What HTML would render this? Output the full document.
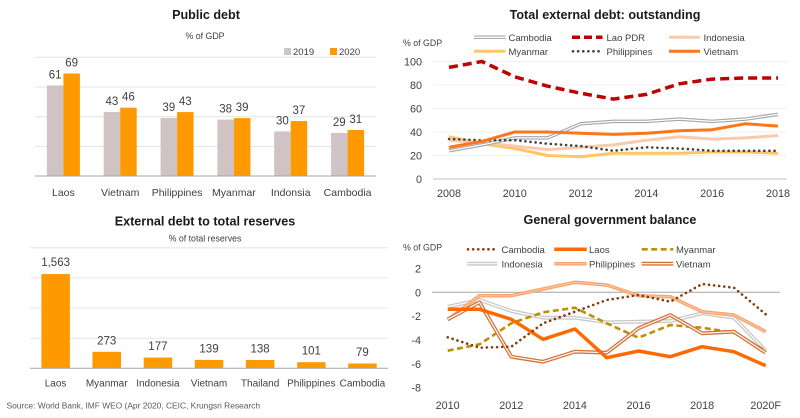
<!DOCTYPE html>
<html><head><meta charset="utf-8"><style>
html,body{margin:0;padding:0;background:#fff;width:800px;height:418px;overflow:hidden}
svg{display:block}
text{font-family:"Liberation Sans",sans-serif;fill:#404040}
.t{font-weight:bold;font-size:12.6px;fill:#1a1a1a}
.s{font-size:8.8px}
.lg{font-size:9.5px}
.ax{font-size:10.8px}
.v{font-size:11.5px}
.c{font-size:10.5px}
.c2{font-size:10px}
</style></head><body>
<svg width="800" height="418" viewBox="0 0 800 418" xmlns="http://www.w3.org/2000/svg">
<!-- ============ Chart 1: Public debt ============ -->
<text class="t" x="206" y="19" text-anchor="middle">Public debt</text>
<text class="s" x="205" y="39" text-anchor="middle">% of GDP</text>
<rect x="284" y="48" width="7" height="7" fill="#CFC3C3"/>
<text class="lg" x="293" y="55">2019</text>
<rect x="330" y="48" width="7" height="7" fill="#FF9900"/>
<text class="lg" x="339" y="55">2020</text>
<g stroke="#e3e3e3" stroke-width="1">
<line x1="35" y1="57.3" x2="376" y2="57.3"/><line x1="35" y1="87" x2="376" y2="87"/>
<line x1="35" y1="116.7" x2="376" y2="116.7"/><line x1="35" y1="146.4" x2="376" y2="146.4"/>
</g>
<g fill="#CFC3C3">
<rect x="46.9" y="85.4" width="16.5" height="90.6"/>
<rect x="103.7" y="112.1" width="16.5" height="63.9"/>
<rect x="160.6" y="118.1" width="16.5" height="57.9"/>
<rect x="217.4" y="119.6" width="16.5" height="56.4"/>
<rect x="274.2" y="131.45" width="16.5" height="44.55"/>
<rect x="331.1" y="132.9" width="16.5" height="43.1"/>
</g>
<g fill="#FF9900">
<rect x="63.4" y="73.5" width="16.5" height="102.5"/>
<rect x="120.2" y="107.7" width="16.5" height="68.3"/>
<rect x="177.1" y="112.1" width="16.5" height="63.9"/>
<rect x="233.9" y="118.1" width="16.5" height="57.9"/>
<rect x="290.7" y="121.05" width="16.5" height="54.95"/>
<rect x="347.6" y="130" width="16.5" height="46"/>
</g>
<line x1="35" y1="176" x2="376" y2="176" stroke="#a6a6a6" stroke-width="1"/>
<g class="v" text-anchor="middle">
<text class="v" x="55.1" y="78.4">61</text><text class="v" x="71.6" y="66.5">69</text>
<text class="v" x="111.9" y="105.1">43</text><text class="v" x="128.4" y="100.7">46</text>
<text class="v" x="168.8" y="111.1">39</text><text class="v" x="185.3" y="105.1">43</text>
<text class="v" x="225.6" y="112.6">38</text><text class="v" x="242.1" y="111.1">39</text>
<text class="v" x="282.4" y="124.4">30</text><text class="v" x="298.9" y="114">37</text>
<text class="v" x="339.3" y="125.9">29</text><text class="v" x="355.8" y="123">31</text>
</g>
<g text-anchor="middle">
<text class="c" x="63.4" y="196">Laos</text>
<text class="c" x="120.2" y="196">Vietnam</text>
<text class="c" x="177.1" y="196">Philippines</text>
<text class="c" x="233.9" y="196">Myanmar</text>
<text class="c" x="290.7" y="196">Indonsia</text>
<text class="c" x="347.6" y="196">Cambodia</text>
</g>

<!-- ============ Chart 2: Total external debt ============ -->
<text class="t" x="605" y="19" text-anchor="middle">Total external debt: outstanding</text>
<text class="s" x="403" y="46">% of GDP</text>
<!-- legend -->
<line x1="474" y1="37.3" x2="505.5" y2="37.3" stroke="#a6a6a6" stroke-width="3.5"/>
<line x1="474" y1="37.3" x2="505.5" y2="37.3" stroke="#fff" stroke-width="1.3"/>
<text class="lg" x="508.5" y="41">Cambodia</text>
<line x1="572" y1="37.3" x2="602.5" y2="37.3" stroke="#C00000" stroke-width="3.5" stroke-dasharray="8,4"/>
<text class="lg" x="606.5" y="41">Lao PDR</text>
<line x1="669" y1="37.3" x2="700" y2="37.3" stroke="#F8CBAD" stroke-width="3"/>
<text class="lg" x="703.5" y="41">Indonesia</text>
<line x1="474" y1="51.3" x2="505.5" y2="51.3" stroke="#FFC566" stroke-width="3"/>
<text class="lg" x="508.5" y="55">Myanmar</text>
<line x1="573" y1="51.3" x2="602.5" y2="51.3" stroke="#404040" stroke-width="2.6" stroke-linecap="round" stroke-dasharray="0.1,5"/>
<text class="lg" x="606.5" y="55">Philippines</text>
<line x1="669" y1="51.3" x2="700" y2="51.3" stroke="#FF7519" stroke-width="3"/>
<text class="lg" x="703.5" y="55">Vietnam</text>
<!-- grid -->
<g stroke="#f0f0f0" stroke-width="1">
<line x1="433" y1="61.5" x2="787" y2="61.5"/><line x1="433" y1="85" x2="787" y2="85"/>
<line x1="433" y1="108.5" x2="787" y2="108.5"/><line x1="433" y1="132" x2="787" y2="132"/>
<line x1="433" y1="155.5" x2="787" y2="155.5"/>
</g>
<line x1="433" y1="179" x2="787" y2="179" stroke="#bfbfbf" stroke-width="1"/>
<g text-anchor="end">
<text class="ax" x="422" y="65.5">100</text><text class="ax" x="422" y="89">80</text>
<text class="ax" x="422" y="112.5">60</text><text class="ax" x="422" y="136">40</text>
<text class="ax" x="422" y="159.5">20</text><text class="ax" x="422" y="183">0</text>
</g>
<g text-anchor="middle">
<text class="ax" x="449" y="197">2008</text><text class="ax" x="514.8" y="197">2010</text>
<text class="ax" x="580.6" y="197">2012</text><text class="ax" x="646.4" y="197">2014</text>
<text class="ax" x="712.2" y="197">2016</text><text class="ax" x="778" y="197">2018</text>
</g>
<g fill="none" stroke-linejoin="round">
<polyline stroke="#FFC566" stroke-width="3" points="449,136.7 481.9,143.75 514.8,148.5 547.7,155.5 580.6,156.7 613.5,153.2 646.4,153.2 679.3,153.2 712.2,152 745.1,152 778,153.2"/>
<polyline stroke="#F8CBAD" stroke-width="3" points="449,140.2 481.9,142.6 514.8,146.1 547.7,149.6 580.6,147.3 613.5,144.9 646.4,140.2 679.3,136.7 712.2,139.1 745.1,137.9 778,135.5"/>
<polyline stroke="#a6a6a6" stroke-width="3.5" points="449,150.8 481.9,144.9 514.8,137.9 547.7,137.9 580.6,123.8 613.5,121.4 646.4,121.4 679.3,119.1 712.2,121.4 745.1,119.1 778,114.4"/>
<polyline stroke="#fff" stroke-width="1.2" points="449,150.8 481.9,144.9 514.8,137.9 547.7,137.9 580.6,123.8 613.5,121.4 646.4,121.4 679.3,119.1 712.2,121.4 745.1,119.1 778,114.4"/>
<polyline stroke="#404040" stroke-width="2.6" stroke-linecap="round" stroke-dasharray="0.1,5" points="449,139 481.9,140.2 514.8,140.2 547.7,143.75 580.6,146.1 613.5,150.8 646.4,147.3 679.3,148.5 712.2,150.8 745.1,150.8 778,150.8"/>
<polyline stroke="#FF7519" stroke-width="3" points="449,147.3 481.9,141.4 514.8,132 547.7,132 580.6,133.2 613.5,134.4 646.4,133.2 679.3,130.8 712.2,129.7 745.1,123.8 778,126.1"/>
<polyline stroke="#C00000" stroke-width="3.5" stroke-dasharray="9,5" points="449,67.4 481.9,61.5 514.8,76.8 547.7,86.2 580.6,93.2 613.5,99.1 646.4,94.4 679.3,83.8 712.2,79.1 745.1,77.95 778,77.95"/>
</g>

<!-- ============ Chart 3: External debt to total reserves ============ -->
<text class="t" x="205" y="225.5" text-anchor="middle">External debt to total reserves</text>
<text class="s" x="205" y="241.5" text-anchor="middle">% of total reserves</text>
<g stroke="#e6e6e6" stroke-width="1">
<line x1="30" y1="247.7" x2="388" y2="247.7"/><line x1="30" y1="277.9" x2="388" y2="277.9"/>
<line x1="30" y1="308.1" x2="388" y2="308.1"/><line x1="30" y1="338.2" x2="388" y2="338.2"/>
</g>
<g fill="#FF9900">
<rect x="41.4" y="274.05" width="28.5" height="94.25"/>
<rect x="92.5" y="351.8" width="28.5" height="16.5"/>
<rect x="143.7" y="357.6" width="28.5" height="10.7"/>
<rect x="194.8" y="359.9" width="28.5" height="8.4"/>
<rect x="245.9" y="360" width="28.5" height="8.3"/>
<rect x="297.1" y="362.2" width="28.5" height="6.1"/>
<rect x="348.2" y="363.5" width="28.5" height="4.8"/>
</g>
<line x1="30" y1="368.3" x2="388" y2="368.3" stroke="#a6a6a6" stroke-width="1"/>
<g text-anchor="middle">
<text class="v" x="55.6" y="266">1,563</text>
<text class="v" x="106.7" y="344.3">273</text>
<text class="v" x="157.9" y="350">177</text>
<text class="v" x="209" y="352.4">139</text>
<text class="v" x="260.1" y="352.5">138</text>
<text class="v" x="311.3" y="354.7">101</text>
<text class="v" x="362.4" y="356">79</text>
</g>
<g text-anchor="middle">
<text class="c2" x="55.6" y="386.5">Laos</text>
<text class="c2" x="106.7" y="386.5">Myanmar</text>
<text class="c2" x="157.9" y="386.5">Indonesia</text>
<text class="c2" x="209" y="386.5">Vietnam</text>
<text class="c2" x="260.1" y="386.5">Thailand</text>
<text class="c2" x="311.3" y="386.5">Philippines</text>
<text class="c2" x="362.4" y="386.5">Cambodia</text>
</g>
<text x="6.5" y="408.5" style="font-size:8.4px;fill:#595959">Source: World Bank, IMF WEO (Apr 2020, CEIC, Krungsri Research</text>

<!-- ============ Chart 4: General government balance ============ -->
<text class="t" x="610" y="224" text-anchor="middle">General government balance</text>
<text class="s" x="403" y="250.5">% of GDP</text>
<!-- legend -->
<line x1="468" y1="249.3" x2="497.5" y2="249.3" stroke="#843C0C" stroke-width="2.6" stroke-linecap="round" stroke-dasharray="0.1,5"/>
<text class="lg" x="501.5" y="253">Cambodia</text>
<line x1="554.3" y1="249.3" x2="586.7" y2="249.3" stroke="#FF6A00" stroke-width="3.5"/>
<text class="lg" x="589" y="253">Laos</text>
<line x1="641.7" y1="249.3" x2="673.3" y2="249.3" stroke="#BF8F00" stroke-width="2.6" stroke-dasharray="6,3.5"/>
<text class="lg" x="676" y="253">Myanmar</text>
<line x1="467.3" y1="263.7" x2="497.3" y2="263.7" stroke="#c8c8c8" stroke-width="3.8"/>
<line x1="467.3" y1="263.7" x2="497.3" y2="263.7" stroke="#fff" stroke-width="1.2"/>
<text class="lg" x="501.5" y="267.5">Indonesia</text>
<line x1="554.3" y1="263.7" x2="586.7" y2="263.7" stroke="#F9A36C" stroke-width="3.5"/>
<line x1="554.3" y1="263.7" x2="586.7" y2="263.7" stroke="#FCC9A4" stroke-width="1"/>
<text class="lg" x="589" y="267.5">Philippines</text>
<line x1="641.7" y1="263.7" x2="673.3" y2="263.7" stroke="#D4743A" stroke-width="3.8"/>
<line x1="641.7" y1="263.7" x2="673.3" y2="263.7" stroke="#fff" stroke-width="1.2"/>
<text class="lg" x="676" y="267.5">Vietnam</text>
<g text-anchor="end">
<text class="ax" x="421" y="272.4">2</text><text class="ax" x="421" y="296.3">0</text>
<text class="ax" x="421" y="320.1">-2</text><text class="ax" x="421" y="344">-4</text>
<text class="ax" x="421" y="367.8">-6</text><text class="ax" x="421" y="391.7">-8</text>
</g>
<line x1="432" y1="292.3" x2="780" y2="292.3" stroke="#a6a6a6" stroke-width="1"/>
<g text-anchor="middle">
<text class="ax" x="447.7" y="409">2010</text><text class="ax" x="511.3" y="409">2012</text>
<text class="ax" x="574.9" y="409">2014</text><text class="ax" x="638.5" y="409">2016</text>
<text class="ax" x="702.1" y="409">2018</text><text class="ax" x="765.7" y="409">2020F</text>
</g>
<g fill="none" stroke-linejoin="round">
<polyline stroke="#c8c8c8" stroke-width="3.8" points="447.7,306.7 479.5,300 511.3,311 543.1,317.7 574.9,317.7 606.7,322.3 638.5,321.7 670.3,321 702.1,313.3 733.9,317.7 765.7,350.7"/>
<polyline stroke="#fff" stroke-width="1.2" points="447.7,306.7 479.5,300 511.3,311 543.1,317.7 574.9,317.7 606.7,322.3 638.5,321.7 670.3,321 702.1,313.3 733.9,317.7 765.7,350.7"/>
<polyline stroke="#F9A36C" stroke-width="3.5" points="447.7,320 479.5,295.7 511.3,295.7 543.1,289 574.9,282.3 606.7,285 638.5,295.7 670.3,296.7 702.1,311.7 733.9,315 765.7,331.7"/>
<polyline stroke="#FCC9A4" stroke-width="1" points="447.7,320 479.5,295.7 511.3,295.7 543.1,289 574.9,282.3 606.7,285 638.5,295.7 670.3,296.7 702.1,311.7 733.9,315 765.7,331.7"/>
<polyline stroke="#BF8F00" stroke-width="2.6" stroke-dasharray="6,3.5" points="447.7,350.7 479.5,344.3 511.3,323.3 543.1,312.3 574.9,307.7 606.7,323.3 638.5,337.7 670.3,325 702.1,327.7 733.9,332.7 765.7,350.7"/>
<polyline stroke="#D4743A" stroke-width="3.8" points="447.7,319.3 479.5,302.3 511.3,356.7 543.1,361.7 574.9,351.7 606.7,352.7 638.5,328.3 670.3,315 702.1,333.3 733.9,331.7 765.7,352.7"/>
<polyline stroke="#fff" stroke-width="1.2" points="447.7,319.3 479.5,302.3 511.3,356.7 543.1,361.7 574.9,351.7 606.7,352.7 638.5,328.3 670.3,315 702.1,333.3 733.9,331.7 765.7,352.7"/>
<polyline stroke="#FF6A00" stroke-width="3.5" points="447.7,309.3 479.5,309.3 511.3,319.3 543.1,339.3 574.9,329 606.7,357.7 638.5,351 670.3,356.7 702.1,346.7 733.9,351.7 765.7,365.7"/>
<polyline stroke="#843C0C" stroke-width="2.6" stroke-linecap="round" stroke-dasharray="0.1,5" points="447.7,337.3 479.5,347.7 511.3,346.7 543.1,323.3 574.9,311.7 606.7,300 638.5,295 670.3,301.7 702.1,284 733.9,287.7 765.7,314.3"/>
</g>
</svg>
</body></html>
